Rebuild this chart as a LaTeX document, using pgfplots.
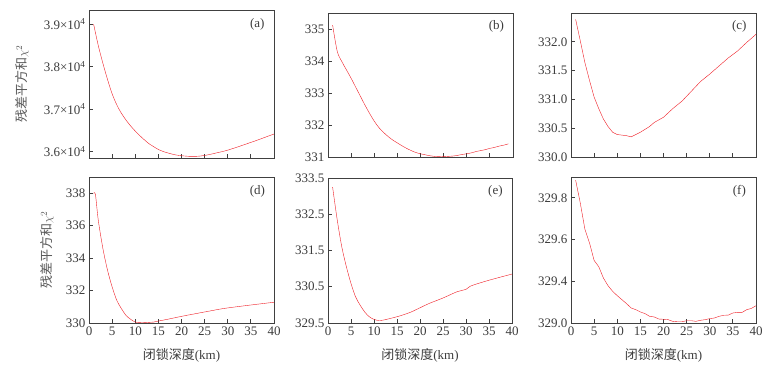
\documentclass[border=0pt]{standalone}
\usepackage{fontspec}
\setmainfont{Liberation Serif}
\newfontfamily\cjk{Noto Sans CJK SC}
\usepackage{pgfplots}
\pgfplotsset{compat=1.18}
\definecolor{axgray}{HTML}{404040}
\definecolor{txtgray}{HTML}{3C3C3C}
\definecolor{curvered}{HTML}{EE1C24}
\pgfplotsset{
  panel/.style={
    scale only axis, width=185pt, height=146pt,
    anchor=south west,
    xmin=0, xmax=40, xtick={0,5,...,40},
    tick align=inside, major tick length=4pt,
    xtick pos=bottom, ytick pos=left,
    axis line style={axgray, line width=0.8pt},
    tick style={axgray, line width=0.8pt},
    ticklabel style={font=\fontsize{13}{14}\selectfont, text=txtgray},
    /pgf/number format/assume math mode=true,
    scaled y ticks=false,
    cycle list={{curvered, line width=0.9pt, mark=none}},
    xlabel style={font=\fontsize{13}{14}\selectfont, text=txtgray, at={(axis description cs:0.5,-0.22)}, anchor=center},
    ylabel style={font=\fontsize{13}{14}\selectfont, text=txtgray!85},
  },
  notop/.style={xticklabels={}},
}
\newcommand{\plabel}[1]{\node[font=\fontsize{13}{14}\selectfont, text=txtgray] at (rel axis cs:0.91,0.905) {(#1)};}
\begin{document}
\begin{tikzpicture}
\useasboundingbox (0pt,0pt) rectangle (773pt,373pt);
% (a)
\begin{axis}[panel, notop, at={(89pt,215pt)}, height=148pt,
  ymin=35844, ymax=39336,
  ytick={36000,37000,38000,39000},
  yticklabels={3.6×10\textsuperscript{4},3.7×10\textsuperscript{4},3.8×10\textsuperscript{4},3.9×10\textsuperscript{4}},
  ylabel={{\cjk 残差平方和}$\chi^{2}$},
  ylabel style={at={(axis description cs:-0.362,0.5)}, anchor=center}]
\addplot+[smooth] coordinates {(1,39000) (2,38500) (3,38080) (4,37700) (5,37360) (6,37100) (7,36900) (8,36740) (9,36600) (10,36480) (11,36370) (12,36270) (13,36180) (14,36110) (15,36045) (16,36000) (17,35965) (18,35935) (19,35912) (20,35898) (21,35888) (22,35882) (23,35882) (24,35890) (25,35905) (26,35925) (27,35950) (28,35975) (29,36000) (30,36030) (32,36100) (34,36175) (36,36250) (38,36330) (40,36410)};
\plabel{a}
\end{axis}
% (b)
\begin{axis}[panel, notop, at={(328pt,216pt)}, height=144pt,
  ymin=331, ymax=335.5, ytick={331,332,333,334,335}]
\addplot+[smooth] coordinates {(1,335.12) (2,334.3) (3,333.98) (4,333.72) (5,333.46) (6,333.18) (7,332.9) (8,332.62) (9,332.36) (10,332.12) (11,331.92) (12,331.77) (13,331.64) (14,331.53) (15,331.44) (16,331.35) (17,331.27) (18,331.2) (19,331.14) (20,331.1) (21,331.07) (22,331.04) (23,331.02) (24,331.01) (25,331.01) (26,331.02) (27,331.03) (28,331.05) (29,331.08) (30,331.1) (31,331.13) (32,331.17) (33,331.2) (34,331.23) (35,331.27) (36,331.3) (37,331.34) (38,331.37) (39,331.41)};
\plabel{b}
\end{axis}
% (c)
\begin{axis}[panel, notop, at={(571pt,216pt)}, height=144pt,
  ymin=330, ymax=332.5, ytick={330,330.5,331,331.5,332},
  yticklabel style={/pgf/number format/.cd, fixed, fixed zerofill, precision=1}]
\addplot coordinates {(1,332.39) (2,332.02) (3,331.64) (4,331.33) (5,331.04) (6,330.84) (7,330.66) (8,330.53) (9,330.43) (10,330.39) (11,330.38) (12,330.37) (13,330.35) (14,330.39) (15,330.43) (16,330.48) (17,330.53) (18,330.6) (20,330.69) (22,330.84) (24,330.97) (26,331.14) (28,331.31) (30,331.44) (32,331.58) (34,331.72) (36,331.84) (38,331.99) (40,332.13)};
\plabel{c}
\end{axis}
% (d)
\begin{axis}[panel, at={(89pt,50pt)}, height=146pt,
  ymin=330, ymax=339, ytick={330,332,334,336,338},
  xlabel={{\cjk 闭锁深度}(km)},
  ylabel={{\cjk 残差平方和}$\chi^{2}$},
  ylabel style={at={(axis description cs:-0.227,0.5)}, anchor=center}]
\addplot+[smooth] coordinates {(1,338.0) (1.4,337.9) (2,336.35) (3,334.6) (4,333.26) (5,332.23) (6,331.4) (7,330.89) (8,330.47) (9,330.23) (10,330.06) (11,330.02) (12,330.02) (13,330.04) (14,330.06) (15,330.12) (17,330.23) (20,330.41) (22,330.52) (25,330.68) (28,330.84) (30,330.93) (35,331.11) (40,331.28)};
\plabel{d}
\end{axis}
% (e)
\begin{axis}[panel, at={(328pt,50pt)}, width=184pt, height=145pt,
  ymin=329.5, ymax=333.5, ytick={329.5,330.5,331.5,332.5,333.5},
  yticklabel style={/pgf/number format/.cd, fixed, fixed zerofill, precision=1},
  xlabel={{\cjk 闭锁深度}(km)}]
\addplot+[smooth] coordinates {(1,333.25) (2,332.35) (3,331.6) (4,331.05) (5,330.59) (6,330.22) (7,329.99) (8,329.8) (9,329.67) (10,329.6) (11,329.57) (12,329.58) (14,329.64) (16,329.71) (18,329.8) (20,329.92) (22,330.04) (25,330.19) (28,330.36) (30,330.43) (31,330.52) (35,330.68) (40,330.85)};
\plabel{e}
\end{axis}
% (f)
\begin{axis}[panel, at={(571pt,50pt)}, height=146pt,
  ymin=329.2, ymax=329.9, ytick={329.2,329.4,329.6,329.8},
  yticklabels={329.0,329.4,329.6,329.8},
  xlabel={{\cjk 闭锁深度}(km)}]
\addplot coordinates {(1,329.885) (2,329.776) (3,329.65) (4,329.584) (5,329.50) (6,329.47) (7,329.416) (8,329.379) (9,329.352) (10,329.331) (11,329.312) (12,329.293) (13,329.272) (14,329.264) (15,329.253) (16,329.245) (17,329.232) (18,329.229) (19,329.219) (20,329.218) (21,329.216) (22,329.208) (23,329.206) (24,329.206) (25,329.211) (26,329.211) (27,329.208) (28,329.213) (29,329.216) (30,329.221) (31,329.224) (32,329.232) (33,329.237) (34,329.238) (35,329.248) (36,329.251) (37,329.251) (38,329.264) (39,329.27) (40,329.283)};
\plabel{f}
\end{axis}
\end{tikzpicture}
\end{document}
